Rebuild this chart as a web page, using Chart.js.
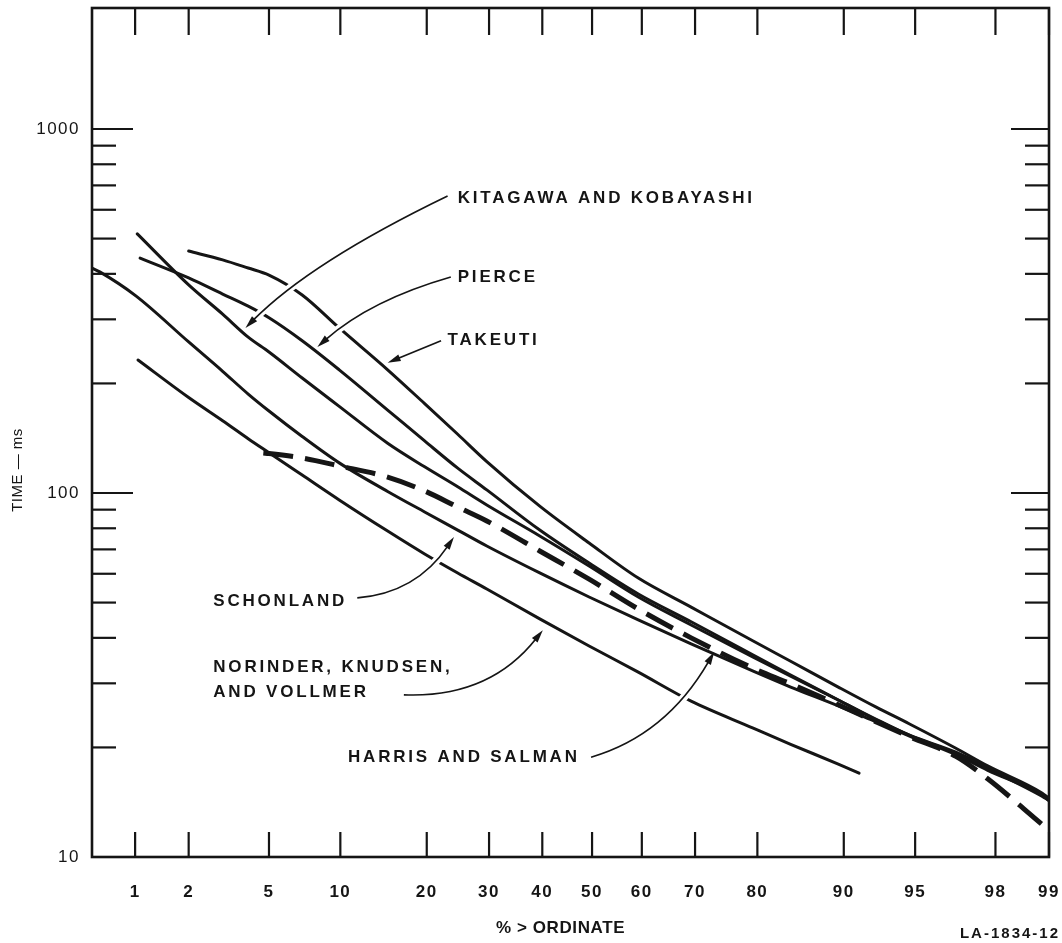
<!DOCTYPE html>
<html><head><meta charset="utf-8">
<script src="https://cdn.jsdelivr.net/npm/chart.js@4.4.1/dist/chart.umd.min.js"></script>
<style>html,body{margin:0;padding:0;background:#fff}#wrap{width:1062px;height:943px}canvas{display:block}</style>
</head><body><div id="wrap"><canvas id="c" width="1062" height="943"></canvas></div>
<script>
// ---------------- data (percent > ordinate, time in ms) ----------------
const xTickPcts   = [1, 2, 5, 10, 20, 30, 40, 50, 60, 70, 80, 90, 95, 98, 99];
const xTickLabels = ['1','2','5','10','20','30','40','50','60','70','80','90','95','98','99'];
const yLabelTicks = [10, 100, 1000];
const yMinorTicks = [20, 30, 40, 50, 60, 70, 80, 90, 200, 300, 400, 500, 600, 700, 800, 900];
const yMajorTicks = [100, 1000];
const xMinPct = 0.545, xMaxPct = 99.0;
const yMin = 10, yMax = 2150;

const takeutiPct = [2.0, 3.0, 4.0, 5.0, 7.0, 9.9, 14.9, 19.7, 24.7, 29.6, 39.5, 49.4, 59.3, 69.3, 79.4, 84.4, 89.5, 92.6, 94.7, 96.8, 97.8, 98.9, 99.0];
const takeutiMs  = [462, 437, 415, 397, 350, 284, 218, 176, 145, 122, 92, 72.9, 58.4, 48.6, 39.2, 34.5, 29.3, 25.8, 23.2, 19.9, 17.8, 15.0, 14.5];

const piercePct = [1.07, 2.0, 3.0, 4.0, 5.0, 7.0, 9.9, 14.9, 19.7, 24.7, 29.6, 39.5, 49.4, 59.3, 69.3, 79.4, 84.4, 89.5, 92.6, 94.7, 96.8, 97.8, 98.9, 99.0];
const pierceMs  = [442, 390, 352, 326, 303, 262, 218, 169, 139, 117, 102, 79.1, 64.2, 52.8, 44.3, 35.9, 31.6, 27.0, 23.8, 21.6, 19.4, 17.6, 14.8, 14.3];

const kitagawaPct = [1.03, 2.0, 3.0, 4.0, 5.0, 7.0, 9.9, 14.9, 19.7, 24.7, 29.6, 39.5, 49.4, 59.3, 69.3, 79.4, 84.4, 89.5, 92.6, 94.7, 96.8, 97.8, 98.9, 99.0];
const kitagawaMs  = [515, 373, 310, 268, 244, 207, 173, 137, 118, 104, 92.7, 76.2, 63.0, 51.8, 43.4, 35.4, 31.4, 27.0, 23.9, 21.6, 19.3, 17.5, 14.7, 14.3];

const schonlandPct = [0.545, 0.61, 1.01, 2.0, 3.0, 4.0, 5.0, 7.0, 9.9, 14.9, 19.7, 24.7, 29.6, 39.5, 49.4, 59.3, 69.3, 79.4, 84.4, 89.5, 92.6, 94.7, 96.8, 97.8, 98.9, 99.0];
const schonlandMs  = [415, 405, 348, 260, 216, 187, 168, 143, 121, 101, 88.7, 79.1, 71.5, 60.3, 51.8, 44.8, 38.5, 32.4, 29.3, 26.0, 23.5, 21.5, 19.1, 17.3, 14.8, 14.3];

const harrisPct = [4.71, 5.0, 7.0, 9.9, 14.9, 19.7, 24.7, 29.6, 39.5, 49.4, 59.3, 69.3, 79.4, 84.4, 89.5, 92.6, 94.7, 96.8, 97.8, 98.9];
const harrisMs  = [128.8, 128.4, 124.8, 118.7, 110.6, 101.3, 91.5, 83.8, 69.3, 58.0, 48.0, 40.0, 33.0, 29.9, 26.2, 23.5, 21.4, 18.9, 16.4, 12.3];

const norinderPct = [1.04, 2.0, 3.0, 4.0, 5.0, 7.0, 9.9, 14.9, 19.7, 24.7, 29.6, 39.5, 49.4, 59.3, 69.3, 79.4, 84.4, 89.5, 91.3];
const norinderMs  = [232, 183, 158, 141, 129, 112, 95.7, 78.6, 68.0, 60.3, 54.5, 45.1, 38.0, 32.2, 26.8, 22.6, 20.4, 18.0, 17.0];

// annotations, anchored in data units [percent, ms]
const noteLabels = [
  {text:'KITAGAWA AND KOBAYASHI', at:[24.7, 646]},
  {text:'PIERCE', at:[24.7, 392]},
  {text:'TAKEUTI', at:[23.1, 262]},
  {text:'SCHONLAND', at:[2.69, 50.5]},
  {text:'NORINDER, KNUDSEN,', at:[2.69, 33.3]},
  {text:'AND VOLLMER', at:[2.69, 28.4]},
  {text:'HARRIS AND SALMAN', at:[10.7, 18.8]}
];
const noteArrows = [
  {from:[23.1, 655], via:[7.6, 431], to:[3.88, 284]},
  {from:[23.6, 392], via:[13.0, 339], to:[8.1, 252]},
  {from:[22.1, 262], via:[18.2, 244], to:[14.9, 228]},
  {from:[11.6, 51.5], via:[18.5, 53.1], to:[24.1, 75.7]},
  {from:[16.9, 27.9], via:[30.0, 27.3], to:[40.1, 42.0]},
  {from:[49.8, 18.8], via:[64.7, 21.6], to:[73.3, 36.6]}
];

// ---------------- probability (normal) scale helper ----------------
function probit(p){
  const a=[-3.969683028665376e+01,2.209460984245205e+02,-2.759285104469687e+02,1.383577518672690e+02,-3.066479806614716e+01,2.506628277459239e+00];
  const b=[-5.447609879822406e+01,1.615858368580409e+02,-1.556989798598866e+02,6.680131188771972e+01,-1.328068155288572e+01];
  const c=[-7.784894002430293e-03,-3.223964580411365e-01,-2.400758277161838e+00,-2.549732539343734e+00,4.374664141464968e+00,2.938163982698783e+00];
  const d=[7.784695709041462e-03,3.224671290700398e-01,2.445134137142996e+00,3.754408661907416e+00];
  const pl=0.02425, ph=1-pl; let q,r;
  if(p<pl){q=Math.sqrt(-2*Math.log(p));return (((((c[0]*q+c[1])*q+c[2])*q+c[3])*q+c[4])*q+c[5])/((((d[0]*q+d[1])*q+d[2])*q+d[3])*q+1);}
  if(p<=ph){q=p-0.5;r=q*q;return (((((a[0]*r+a[1])*r+a[2])*r+a[3])*r+a[4])*r+a[5])*q/(((((b[0]*r+b[1])*r+b[2])*r+b[3])*r+b[4])*r+1);}
  q=Math.sqrt(-2*Math.log(1-p));return -(((((c[0]*q+c[1])*q+c[2])*q+c[3])*q+c[4])*q+c[5])/((((d[0]*q+d[1])*q+d[2])*q+d[3])*q+1);
}
const toZ = pct => probit(pct/100);

const INK = '#151515';
const FONT = "'Liberation Sans', Arial, sans-serif";

function series(label, pct, ms, dashed){
  return {
    label,
    data: pct.map((p,i)=>({x:toZ(p), y:ms[i]})),
    borderColor: INK,
    borderWidth: dashed ? 5 : 3,
    borderDash: dashed ? [30, 12] : [],
    borderCapStyle: dashed ? 'butt' : 'round',
    pointRadius: 0,
    cubicInterpolationMode: 'monotone',
    fill: false
  };
}

const decorPlugin = {
  id: 'decor',
  beforeDraw(chart){
    const ctx = chart.ctx;
    ctx.save(); ctx.fillStyle = '#fff'; ctx.fillRect(0,0,chart.width,chart.height); ctx.restore();
    ctx.letterSpacing = '1.5px';
  },
  afterDatasetsDraw(chart){
    const ctx = chart.ctx, xs = chart.scales.x, ys = chart.scales.y;
    const P = a => [xs.getPixelForValue(toZ(a[0])), ys.getPixelForValue(a[1])];
    noteArrows.forEach(a => {
      const p0 = P(a.from), c = P(a.via), p2 = P(a.to);
      let dx = p2[0]-c[0], dy = p2[1]-c[1]; const L = Math.hypot(dx,dy); dx/=L; dy/=L;
      const head = 13, hw = 3.6;
      const base = [p2[0]-dx*head, p2[1]-dy*head];
      ctx.save();
      ctx.lineCap = 'butt';
      ctx.strokeStyle = '#fff'; ctx.lineWidth = 8;
      ctx.beginPath(); ctx.moveTo(p0[0], p0[1]); ctx.quadraticCurveTo(c[0], c[1], base[0], base[1]); ctx.stroke();
      ctx.strokeStyle = INK; ctx.lineWidth = 1.7;
      ctx.beginPath(); ctx.moveTo(p0[0], p0[1]); ctx.quadraticCurveTo(c[0], c[1], base[0]+dx*2, base[1]+dy*2); ctx.stroke();
      ctx.fillStyle = INK;
      ctx.beginPath(); ctx.moveTo(p2[0], p2[1]);
      ctx.lineTo(base[0]-dy*hw, base[1]+dx*hw); ctx.lineTo(base[0]+dy*hw, base[1]-dx*hw); ctx.closePath(); ctx.fill();
      ctx.restore();
    });
  },
  afterDraw(chart){
    const ctx = chart.ctx, xs = chart.scales.x, ys = chart.scales.y;
    const {left, right, top, bottom} = chart.chartArea;
    const P = a => [xs.getPixelForValue(toZ(a[0])), ys.getPixelForValue(a[1])];
    ctx.save();
    ctx.strokeStyle = INK; ctx.lineCap = 'butt';
    const seg = (x1,y1,x2,y2) => { ctx.beginPath(); ctx.moveTo(x1,y1); ctx.lineTo(x2,y2); ctx.stroke(); };
    ctx.lineWidth = 2.2;
    xTickPcts.forEach(p => {
      const px = xs.getPixelForValue(toZ(p));
      seg(px, top, px, top+27);
      seg(px, bottom, px, bottom-25);
    });
    yMajorTicks.forEach(v => { const py = ys.getPixelForValue(v); seg(left, py, left+41, py); seg(right, py, right-38, py); });
    yMinorTicks.forEach(v => { const py = ys.getPixelForValue(v); seg(left, py, left+24, py); seg(right, py, right-24, py); });
    ctx.lineWidth = 2.6;
    ctx.strokeRect(left, top, right-left, bottom-top);

    // curve labels
    ctx.fillStyle = INK;
    ctx.textBaseline = 'middle'; ctx.textAlign = 'left';
    ctx.font = 'bold 17px ' + FONT;
    ctx.letterSpacing = '2.8px';
    noteLabels.forEach(n => { const p = P(n.at); ctx.fillText(n.text, p[0], p[1]); });

    // axis titles
    ctx.textAlign = 'center';
    ctx.font = 'bold 17px ' + FONT; ctx.letterSpacing = '0.6px';
    ctx.fillText('% > ORDINATE', (left+right)/2 - 10, 928);
    ctx.textAlign = 'right';
    ctx.font = 'bold 15px ' + FONT; ctx.letterSpacing = '2px';
    ctx.fillText('LA-1834-12', 1060, 934);
    ctx.save();
    ctx.translate(18, 470); ctx.rotate(-Math.PI/2);
    ctx.textAlign = 'center';
    ctx.font = '15px ' + FONT; ctx.letterSpacing = '0.5px';
    ctx.fillText('TIME \u2014 ms', 0, 0);
    ctx.restore();
    ctx.restore();
  }
};

new Chart(document.getElementById('c'), {
  type: 'line',
  data: {
    datasets: [
      series('Takeuti', takeutiPct, takeutiMs, false),
      series('Pierce', piercePct, pierceMs, false),
      series('Kitagawa and Kobayashi', kitagawaPct, kitagawaMs, false),
      series('Schonland', schonlandPct, schonlandMs, false),
      series('Norinder, Knudsen, and Vollmer', norinderPct, norinderMs, false),
      series('Harris and Salman', harrisPct, harrisMs, true)
    ]
  },
  options: {
    responsive: false, animation: false, devicePixelRatio: 1,
    layout: {padding: {top: 8, right: 13, left: 0, bottom: 0}},
    plugins: {legend: {display: false}, tooltip: {enabled: false}},
    scales: {
      x: {
        type: 'linear', min: toZ(xMinPct), max: toZ(xMaxPct),
        grid: {display: false, drawTicks: false}, border: {display: false},
        afterBuildTicks: s => { s.ticks = xTickPcts.map(p => ({value: toZ(p)})); },
        ticks: {autoSkip: false, maxRotation: 0, minRotation: 0, padding: 25, color: INK,
                font: {family: FONT, size: 17, weight: 'bold'},
                callback: (v, i) => xTickLabels[i]},
        afterFit: s => { s.height = 86; s.paddingLeft = 0; s.paddingRight = 0; }
      },
      y: {
        type: 'logarithmic', min: yMin, max: yMax,
        grid: {display: false, drawTicks: false}, border: {display: false},
        afterBuildTicks: s => { s.ticks = yLabelTicks.map(v => ({value: v})); },
        ticks: {autoSkip: false, padding: 12, color: INK,
                font: {family: FONT, size: 17},
                callback: v => String(v)},
        afterFit: s => { s.width = 92; s.paddingTop = 0; s.paddingBottom = 0; }
      }
    }
  },
  plugins: [decorPlugin]
});
</script></body></html>
